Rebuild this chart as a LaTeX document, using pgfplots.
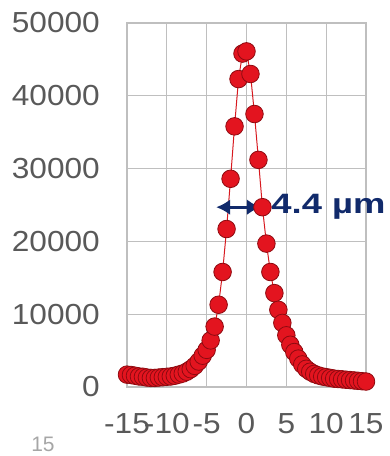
\documentclass[border=0pt]{standalone}
\usepackage{fontspec}
\setmainfont{Liberation Sans}
\newfontfamily\tickfont[FakeStretch=1.09]{Liberation Sans}
\newfontfamily\annfont[FakeStretch=1.3]{Liberation Sans}
\usepackage{pgfplots}
\pgfplotsset{compat=1.18}
\usetikzlibrary{arrows.meta}
\definecolor{tickgray}{HTML}{595959}
\definecolor{gridgray}{HTML}{BFBFBF}
\definecolor{ballred}{HTML}{E3141F}
\definecolor{balledge}{HTML}{8E0A10}
\definecolor{linered}{HTML}{D7191F}
\definecolor{navy}{HTML}{112A6B}
\begin{document}
\begin{tikzpicture}
\begin{axis}[
  at={(0,0)}, anchor=south west,
  scale only axis, width=239pt, height=364pt,
  xmin=-15, xmax=15, ymin=0, ymax=50000,
  scaled y ticks=false, scaled x ticks=false,
  xtick={-15,-10,-5,0,5,10,15},
  xticklabels={-15,-10,-5,0,5,10,15},
  ytick={0,10000,20000,30000,40000,50000},
  yticklabels={0,10000,20000,30000,40000,50000},
  major tick length=0pt,
  grid=major,
  major grid style={gridgray, line width=1.2pt},
  axis line style={gridgray, line width=1.2pt},
  tick label style={font=\tickfont\fontsize{29}{30}\selectfont, text=tickgray, inner sep=0pt},
  yticklabel style={anchor=east, xshift=-27pt},
  xticklabel style={anchor=north, yshift=-26pt},
  clip=false,
]
\addplot[color=linered, line width=1pt, mark=*, mark size=8.8pt,
  mark options={fill=ballred, draw=balledge, line width=0.8pt}]
coordinates {
(-15,1700) (-14.5,1650) (-14,1550) (-13.5,1450) (-13,1400) (-12.5,1300)
(-12,1250) (-11.5,1250) (-11,1300) (-10.5,1350) (-10,1400) (-9.5,1450)
(-9,1550) (-8.5,1700) (-8,1850) (-7.5,2100) (-7,2450) (-6.5,2900)
(-6,3500) (-5.5,4300) (-5,5100) (-4.5,6400) (-4,8300) (-3.5,11300)
(-3,15800) (-2.5,21700) (-2,28600) (-1.5,35800) (-1,42300) (-0.5,45800)
(0,46100) (0.5,43000) (1,37500) (1.5,31200) (2,24700) (2.5,19700)
(3,15800) (3.5,12900) (4,10600) (4.5,8800) (5,7100) (5.5,5800)
(6,4800) (6.5,3900) (7,3100) (7.5,2500) (8,2100) (8.5,1800)
(9,1600) (9.5,1450) (10,1350) (10.5,1250) (11,1150) (11.5,1100)
(12,1050) (12.5,1000) (13,950) (13.5,900) (14,850) (14.5,800) (15,750)
};
\draw[navy, line width=2.8pt, {Latex[length=14pt,width=16pt]}-{Latex[length=14pt,width=16pt]}]
  (axis cs:-3.8,24700) -- (axis cs:1.8,24700);
\node[anchor=west, inner sep=0pt, text=navy, font=\annfont\bfseries\fontsize{28}{30}\selectfont]
  at (axis cs:3.1,24700) {4.4 µm};
\end{axis}
\node[text=gray!70, font=\fontsize{21}{23}\selectfont, inner sep=0pt] at (-84pt,-57pt) {15};
\pgfresetboundingbox
\useasboundingbox (-127pt,-69pt) rectangle (263pt,387pt);
\end{tikzpicture}
\end{document}
